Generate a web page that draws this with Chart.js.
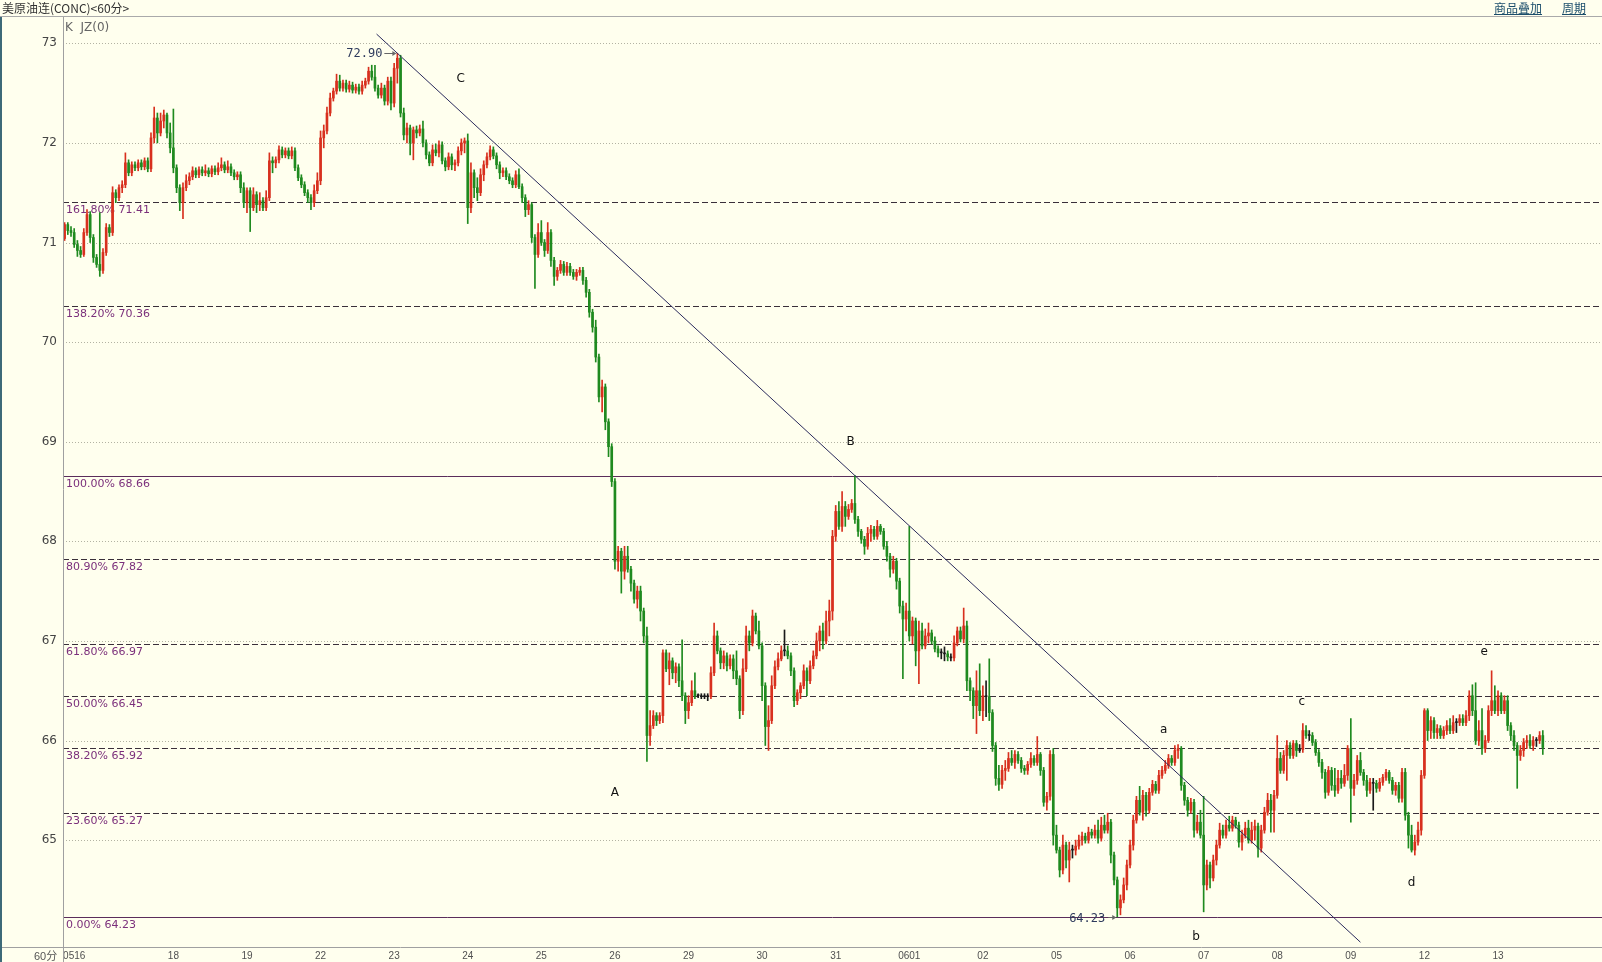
<!DOCTYPE html>
<html lang="zh-CN">
<head>
<meta charset="utf-8">
<title>美原油连(CONC)&lt;60分&gt;</title>
<script src="https://cdn.jsdelivr.net/npm/chart.js@4.4.1/dist/chart.umd.min.js"></script>
<style>
html,body{margin:0;padding:0;background:#FFFFEE;overflow:hidden;}
#wrap{position:relative;width:1602px;height:962px;background:#FFFFEE;}
#c{position:absolute;left:0;top:0;}
.t{position:absolute;white-space:pre;z-index:2;}
</style>
</head>
<body>
<div id="wrap">
  <canvas id="c" width="1602" height="962"></canvas>
  <div class="t" style="left:2px;top:0px;font-family:'Noto Sans CJK SC';font-size:12px;line-height:16px;color:#333">美原油连(CONC)&lt;60分&gt;</div>
  <div class="t" style="left:1494px;top:0px;font-family:'Noto Sans CJK SC';font-size:12px;line-height:16px;color:#1b4e6b;text-decoration:underline">商品叠加</div>
  <div class="t" style="left:1562px;top:0px;font-family:'Noto Sans CJK SC';font-size:12px;line-height:16px;color:#1b4e6b;text-decoration:underline">周期</div>
  <div class="t" style="left:65px;top:20px;font-family:'DejaVu Sans';font-size:12px;line-height:14px;color:#666">K  JZ(0)</div>
  <div class="t" style="left:34px;top:949px;font-family:'Liberation Sans','Noto Sans CJK SC';font-size:11px;line-height:14px;color:#555">60分</div>
  <div style="position:absolute;left:0;top:16px;width:1602px;height:1px;background:#aaaaaa;z-index:2"></div>
  <div style="position:absolute;left:0;top:17px;width:2px;height:945px;background:#3e6a78;z-index:2"></div>
</div>
<script>
// ---------------- data ----------------
const dayLabels = ['0516','18','19','22','23','24','25','26','29','30','31','0601','02','05','06','07','08','09','12','13'];
const dayLabelIdx = [3,34,57,80,103,126,149,172,195,218,241,264,287,310,333,356,379,402,425,448];
const yTicks = [65,66,67,68,69,70,71,72,73];

const fibPct = ['161.80%','138.20%','100.00%','80.90%','61.80%','50.00%','38.20%','23.60%','0.00%'];
const fibValues = [71.41,70.36,68.66,67.82,66.97,66.45,65.92,65.27,64.23];

const waveLetters = ['C','B','A','a','b','c','d','e'];
const waveIdx = [123.8,245.7,172.0,343.5,353.6,386.7,421.0,443.7];
const waveVal = [72.64,69.00,65.47,66.11,64.03,66.39,64.57,66.89];

const opens = [
71.04,71.18,71.12,71.10,70.98,70.92,70.88,71.10,71.28,71.05,70.85,70.78,70.72,70.90,71.15,71.10,71.50,71.45,71.55,71.58,71.80,71.70,71.78,71.75,71.80,71.76,71.82,71.74,72.05,72.25,72.10,72.22,72.28,
72.10,71.95,71.75,71.55,71.40,71.55,71.62,71.66,71.72,71.68,71.73,71.70,71.72,71.69,71.74,71.71,71.75,71.78,71.73,71.76,71.70,71.66,71.68,
71.55,71.40,71.52,71.35,71.48,71.38,71.42,71.35,71.45,71.82,71.80,71.83,71.93,71.88,71.92,71.87,71.92,71.75,71.65,71.58,71.50,71.45,71.40,
71.52,71.62,72.05,72.12,72.30,72.45,72.52,72.62,72.55,72.60,72.54,72.58,72.53,72.56,72.52,72.58,72.62,72.72,72.66,72.55,72.48,72.55,72.42,
72.62,72.40,72.75,72.85,72.30,72.08,72.15,72.00,72.13,72.10,72.14,72.00,71.88,71.80,71.93,71.90,71.98,71.82,71.76,71.86,71.78,71.80,71.92,
72.00,72.02,71.35,71.70,71.55,71.50,71.68,71.78,71.86,71.93,71.87,71.78,71.70,71.72,71.66,71.62,71.58,71.68,71.56,71.45,71.33,71.38,71.05,
70.88,71.10,71.00,70.92,71.10,70.82,70.66,70.72,70.78,70.70,70.76,70.70,70.66,70.70,70.72,70.62,70.50,70.30,70.15,69.85,69.45,69.55,69.20,
68.95,68.60,67.80,67.90,67.70,67.85,67.72,67.58,67.42,67.50,67.30,67.05,66.05,66.15,66.25,66.20,66.25,66.88,66.72,66.80,66.68,66.74,66.60,
66.45,66.30,66.38,66.50,66.45,66.45,66.44,66.45,66.44,66.68,67.05,66.90,66.78,66.85,66.75,66.82,66.70,66.62,66.30,66.72,67.05,66.98,67.25,
67.10,66.95,66.55,66.14,66.20,66.55,66.74,66.82,66.90,66.90,66.85,66.70,66.40,66.48,66.55,66.70,66.60,66.75,66.85,67.00,67.10,67.00,67.20,
67.30,68.05,68.30,68.15,68.35,68.25,68.32,68.38,68.22,68.10,68.02,67.95,68.08,68.12,68.05,68.15,68.10,67.95,67.85,67.72,67.80,67.60,67.35,
67.22,67.30,67.05,67.20,66.90,67.10,66.95,67.05,67.08,67.00,66.92,66.88,66.88,66.87,66.84,66.83,66.98,67.10,67.02,67.15,66.60,66.50,66.35,
66.50,66.30,66.45,66.44,66.28,65.95,65.62,65.56,65.70,65.72,65.82,65.78,65.86,65.80,65.72,65.70,65.76,65.82,65.78,65.86,65.70,65.38,65.44,
65.86,65.05,64.90,64.70,64.95,64.80,64.90,64.90,64.94,65.00,65.04,65.00,65.08,65.05,65.10,65.02,65.15,65.10,65.18,64.85,64.60,64.32,64.40,
64.55,64.75,64.95,65.20,65.40,65.28,65.45,65.30,65.48,65.56,65.50,65.65,65.70,65.75,65.82,65.78,65.90,65.92,65.55,65.40,65.30,65.38,65.10,
65.18,65.05,64.55,64.75,64.62,64.80,64.95,65.10,65.05,65.15,65.12,65.20,65.15,64.98,65.05,65.12,65.00,65.10,65.14,64.92,65.10,65.28,65.40,
65.30,65.45,65.82,65.70,65.85,65.95,65.85,65.97,65.90,65.91,66.10,66.05,66.05,65.98,65.88,65.78,65.68,65.48,65.70,65.55,65.50,65.62,65.57,
65.65,65.92,65.52,65.60,65.80,65.68,65.60,65.50,65.58,65.57,65.52,65.58,65.63,65.68,65.60,65.50,65.55,65.42,65.68,65.25,65.05,64.90,64.98,
65.10,65.65,66.30,66.10,66.20,66.08,66.12,66.05,66.10,66.15,66.10,66.18,66.18,66.22,66.18,66.25,66.45,66.30,66.00,66.10,65.92,66.00,66.30,
66.40,66.30,66.45,66.30,66.40,66.15,66.05,65.95,65.85,65.90,65.98,66.00,65.95,66.00,66.00,66.05
];
const highs = [
71.20,71.20,71.16,71.14,71.02,70.96,71.14,71.33,71.31,71.08,70.88,71.30,70.94,71.19,71.18,71.56,71.53,71.58,71.62,71.90,71.83,71.81,71.81,71.83,71.83,71.85,71.85,72.10,72.36,72.30,72.30,72.33,72.30,
72.20,72.34,71.78,71.58,71.60,71.68,71.70,71.76,71.75,71.76,71.76,71.78,71.75,71.77,71.77,71.80,71.85,71.81,71.82,71.79,71.73,71.71,71.71,
71.60,71.55,71.55,71.55,71.51,71.50,71.45,71.52,71.90,71.86,71.86,71.97,71.96,71.95,71.95,71.96,71.95,71.78,71.68,71.61,71.53,71.48,71.58,
71.70,72.12,72.18,72.36,72.50,72.55,72.69,72.68,72.63,72.63,72.62,72.61,72.59,72.59,72.62,72.65,72.76,72.78,72.78,72.58,72.60,72.58,72.66,
72.66,72.80,72.90,72.88,72.35,72.20,72.18,72.16,72.17,72.18,72.22,72.03,71.91,71.98,71.99,72.02,72.01,71.85,71.90,71.89,71.83,71.96,72.04,
72.05,72.09,71.80,71.73,71.65,71.74,71.82,71.90,71.97,71.96,71.90,71.81,71.75,71.75,71.69,71.65,71.72,71.74,71.59,71.48,71.42,71.40,71.08,
71.19,71.22,71.03,71.20,71.13,70.85,70.75,70.82,70.81,70.80,70.79,70.73,70.73,70.75,70.75,70.65,70.53,70.33,70.22,69.88,69.62,69.58,69.23,
68.98,68.63,67.95,67.93,67.95,67.95,67.75,67.61,67.55,67.55,67.33,67.14,66.30,66.30,66.28,66.28,66.91,66.91,66.88,66.83,66.78,66.77,67.01,
66.48,66.45,66.60,66.68,66.47,66.47,66.47,66.47,66.74,67.18,67.10,66.93,66.90,66.88,66.86,66.86,66.90,66.65,66.82,67.15,67.10,67.31,67.28,
67.20,66.98,66.58,66.35,66.65,66.80,66.88,66.95,67.11,66.95,66.88,66.73,66.51,66.58,66.76,66.73,66.80,66.90,67.08,67.15,67.18,67.30,67.41,
68.11,68.36,68.40,68.50,68.40,68.37,68.42,68.66,68.25,68.12,68.05,68.14,68.16,68.15,68.21,68.17,68.13,68.00,67.88,67.85,67.83,67.63,67.40,
67.38,68.15,67.24,67.23,67.20,67.18,67.12,67.18,67.11,67.04,66.95,66.92,66.94,66.90,66.87,67.05,67.14,67.14,67.33,67.20,66.63,66.53,66.70,
66.77,66.55,66.60,66.82,66.31,65.98,65.75,65.75,65.80,65.88,65.90,65.90,65.89,65.83,65.75,65.79,65.88,65.85,66.04,65.88,65.73,65.48,65.90,
65.92,65.15,64.93,65.05,64.98,64.98,64.95,65.00,65.05,65.08,65.07,65.13,65.11,65.15,65.20,65.23,65.25,65.27,65.21,64.88,64.63,64.45,64.62,
64.80,65.00,65.25,65.44,65.54,65.50,65.48,65.52,65.60,65.59,65.70,65.74,65.80,65.86,65.85,65.95,65.96,65.94,65.58,65.43,65.42,65.41,65.25,
65.30,65.44,64.80,64.78,64.85,65.00,65.17,65.15,65.20,65.24,65.24,65.23,65.18,65.10,65.18,65.20,65.18,65.20,65.17,65.15,65.33,65.47,65.46,
65.50,66.05,65.88,65.90,66.00,65.98,66.00,66.00,65.96,66.17,66.15,66.10,66.08,66.01,65.91,65.81,65.71,65.74,65.73,65.72,65.70,65.70,65.76,
65.95,66.22,65.66,65.85,65.88,65.71,65.65,65.62,65.62,65.60,65.62,65.66,65.71,65.70,65.63,65.58,65.58,65.72,65.72,65.28,65.15,65.05,65.18,
65.70,66.32,66.32,66.24,66.23,66.16,66.15,66.14,66.20,66.22,66.25,66.22,66.26,66.26,66.30,66.50,66.56,66.58,66.20,66.32,66.05,66.35,66.70,
66.55,66.50,66.48,66.45,66.45,66.18,66.10,65.98,65.95,66.02,66.05,66.06,66.04,66.03,66.09,66.10
];
const lows = [
71.02,71.08,71.06,70.95,70.86,70.85,70.86,71.07,71.00,70.80,70.75,70.66,70.69,70.87,71.06,71.07,71.40,71.42,71.50,71.55,71.67,71.67,71.72,71.72,71.73,71.73,71.71,71.71,72.00,72.00,72.07,72.15,72.05,
71.90,71.70,71.50,71.32,71.24,71.52,71.58,71.63,71.65,71.65,71.67,71.67,71.66,71.66,71.68,71.68,71.72,71.70,71.70,71.67,71.63,71.63,71.50,
71.35,71.30,71.11,71.32,71.30,71.32,71.32,71.32,71.42,71.70,71.75,71.80,71.85,71.85,71.84,71.84,71.72,71.62,71.55,71.47,71.40,71.33,71.36,
71.49,71.58,71.95,72.09,72.27,72.42,72.49,72.52,72.52,72.51,72.51,72.50,72.50,72.49,72.49,72.55,72.59,72.63,72.52,72.45,72.45,72.38,72.38,
72.33,72.36,72.60,72.26,72.03,72.00,71.88,71.83,72.05,72.07,71.96,71.84,71.77,71.77,71.87,71.86,71.79,71.72,71.73,71.73,71.72,71.77,71.88,
71.90,71.19,71.30,71.45,71.42,71.47,71.62,71.75,71.83,71.84,71.74,71.64,71.66,71.63,71.59,71.55,71.55,71.54,71.40,71.26,71.28,71.00,70.54,
70.85,70.97,70.86,70.89,70.76,70.57,70.62,70.69,70.67,70.67,70.67,70.63,70.62,70.67,70.58,70.45,70.25,70.10,69.80,69.40,69.30,69.12,68.85,
68.55,67.72,67.70,67.48,67.62,67.69,67.50,67.38,67.33,67.20,66.98,65.79,65.95,66.12,66.15,66.17,66.18,66.69,66.56,66.62,66.58,66.54,66.40,
66.17,66.22,66.35,66.42,66.43,66.42,66.42,66.40,66.42,66.65,66.87,66.72,66.72,66.70,66.72,66.62,66.56,66.22,66.26,66.69,66.90,66.95,67.07,
66.92,66.40,65.95,65.90,66.17,66.52,66.71,66.80,66.85,66.82,66.65,66.34,66.36,66.42,66.52,66.45,66.57,66.72,66.82,66.90,66.92,66.97,67.05,
67.21,68.00,68.12,68.10,68.15,68.22,68.29,68.18,68.05,67.98,67.87,67.92,68.00,68.02,68.02,68.07,67.92,67.80,67.64,67.68,67.52,67.28,66.62,
67.10,67.00,66.97,66.75,66.57,66.92,66.92,66.98,66.97,66.89,66.84,66.82,66.80,66.80,66.80,66.80,66.95,66.99,66.98,66.50,66.40,66.22,66.07,
66.25,66.20,66.24,66.20,65.89,65.55,65.50,65.52,65.60,65.69,65.75,65.72,65.77,65.68,65.66,65.66,65.73,65.75,65.75,65.65,65.34,65.30,65.40,
64.95,64.87,64.63,64.66,64.72,64.58,64.82,64.85,64.91,64.95,64.97,64.97,65.02,65.02,64.97,64.99,65.07,65.07,64.77,64.55,64.23,64.25,64.37,
64.50,64.72,64.90,65.17,65.25,65.20,65.24,65.27,65.45,65.47,65.47,65.62,65.67,65.72,65.75,65.75,65.82,65.50,65.35,65.24,65.27,65.03,65.07,
65.02,64.28,64.50,64.52,64.59,64.75,64.92,65.02,65.02,65.09,65.09,65.12,64.93,64.90,65.02,64.97,64.97,65.00,64.83,64.88,65.07,65.25,65.08,
65.08,65.42,65.67,65.67,65.60,65.82,65.82,65.84,65.88,65.88,66.02,66.00,65.95,65.85,65.74,65.62,65.42,65.45,65.50,65.44,65.47,65.52,65.54,
65.60,65.18,65.45,65.56,65.65,65.55,65.44,65.47,65.30,65.48,65.49,65.55,65.60,65.57,65.46,65.45,65.38,65.38,65.20,64.92,64.88,64.85,64.95,
65.05,65.62,66.00,66.02,66.02,66.02,66.02,66.02,66.06,66.07,66.07,66.08,66.15,66.15,66.15,66.20,66.25,65.96,65.95,65.86,65.88,65.98,66.25,
66.27,66.25,66.27,66.27,66.10,66.00,65.90,65.52,65.80,65.84,65.92,65.92,65.90,65.94,65.97,65.86
];
const closes = [
71.18,71.12,71.10,70.98,70.92,70.88,71.10,71.28,71.05,70.85,70.78,70.72,70.90,71.15,71.10,71.50,71.45,71.55,71.58,71.80,71.70,71.78,71.75,71.80,71.76,71.82,71.74,72.05,72.25,72.10,72.22,72.28,72.10,
71.95,71.75,71.55,71.40,71.55,71.62,71.66,71.72,71.68,71.73,71.70,71.72,71.69,71.74,71.71,71.75,71.78,71.73,71.76,71.70,71.66,71.68,71.55,
71.40,71.52,71.35,71.48,71.38,71.42,71.35,71.45,71.82,71.80,71.83,71.93,71.88,71.92,71.87,71.92,71.75,71.65,71.58,71.50,71.45,71.40,71.52,
71.62,72.05,72.12,72.30,72.45,72.52,72.62,72.55,72.60,72.54,72.58,72.53,72.56,72.52,72.58,72.62,72.72,72.66,72.55,72.48,72.55,72.42,72.62,
72.40,72.75,72.85,72.30,72.08,72.15,72.00,72.13,72.10,72.14,72.00,71.88,71.80,71.93,71.90,71.98,71.82,71.76,71.86,71.78,71.80,71.92,72.00,
72.02,71.35,71.70,71.55,71.50,71.68,71.78,71.86,71.93,71.87,71.78,71.70,71.72,71.66,71.62,71.58,71.68,71.56,71.45,71.33,71.38,71.05,70.88,
71.10,71.00,70.92,71.10,70.82,70.66,70.72,70.78,70.70,70.76,70.70,70.66,70.70,70.72,70.62,70.50,70.30,70.15,69.85,69.45,69.55,69.20,68.95,
68.60,67.80,67.90,67.70,67.85,67.72,67.58,67.42,67.50,67.30,67.05,66.05,66.15,66.25,66.20,66.25,66.88,66.72,66.80,66.68,66.74,66.60,66.45,
66.30,66.38,66.50,66.45,66.45,66.44,66.45,66.44,66.68,67.05,66.90,66.78,66.85,66.75,66.82,66.70,66.62,66.30,66.72,67.05,66.98,67.25,67.10,
66.95,66.55,66.14,66.20,66.55,66.74,66.82,66.90,66.90,66.85,66.70,66.40,66.48,66.55,66.70,66.60,66.75,66.85,67.00,67.10,67.00,67.20,67.30,
68.05,68.30,68.15,68.35,68.25,68.32,68.38,68.22,68.10,68.02,67.95,68.08,68.12,68.05,68.15,68.10,67.95,67.85,67.72,67.80,67.60,67.35,67.22,
67.30,67.05,67.20,66.90,67.10,66.95,67.05,67.08,67.00,66.92,66.88,66.88,66.87,66.84,66.83,66.98,67.10,67.02,67.15,66.60,66.50,66.35,66.50,
66.30,66.45,66.44,66.28,65.95,65.62,65.56,65.70,65.72,65.82,65.78,65.86,65.80,65.72,65.70,65.76,65.82,65.78,65.86,65.70,65.38,65.44,65.86,
65.05,64.90,64.70,64.95,64.80,64.90,64.90,64.94,65.00,65.04,65.00,65.08,65.05,65.10,65.02,65.15,65.10,65.18,64.85,64.60,64.32,64.40,64.55,
64.75,64.95,65.20,65.40,65.28,65.45,65.30,65.48,65.56,65.50,65.65,65.70,65.75,65.82,65.78,65.90,65.92,65.55,65.40,65.30,65.38,65.10,65.18,
65.05,64.55,64.75,64.62,64.80,64.95,65.10,65.05,65.15,65.12,65.20,65.15,64.98,65.05,65.12,65.00,65.10,65.14,64.92,65.10,65.28,65.40,65.30,
65.45,65.82,65.70,65.85,65.95,65.85,65.97,65.90,65.91,66.10,66.05,66.05,65.98,65.88,65.78,65.68,65.48,65.70,65.55,65.50,65.62,65.57,65.65,
65.92,65.52,65.60,65.80,65.68,65.60,65.50,65.58,65.57,65.52,65.58,65.63,65.68,65.60,65.50,65.55,65.42,65.68,65.25,65.05,64.90,64.98,65.10,
65.65,66.30,66.10,66.20,66.08,66.12,66.05,66.10,66.15,66.10,66.18,66.18,66.22,66.18,66.25,66.45,66.30,66.00,66.10,65.92,66.00,66.30,66.40,
66.30,66.45,66.30,66.40,66.15,66.05,65.95,65.85,65.90,65.98,66.00,65.95,66.00,66.00,66.05,65.93
];

// ---------------- layout / style ----------------
const SLOT_COUNT = 481;          // visible hourly slots (incl. empty space at right)
const slotLabels = Array.from({length: SLOT_COUNT}, (_, i) => String(i));
const UP = '#d8301e', DOWN = '#1f8a1f', FLAT = '#1a1a1a';
const colors = closes.map((c, i) => {
  const d = c - opens[i];
  return Math.abs(d) < 0.015 ? FLAT : (d > 0 ? UP : DOWN);
});
const peakIdx = highs.indexOf(Math.max(...highs));
const lowIdx = lows.indexOf(Math.min(...lows));
let bIdx = 200;
for (let i = 200; i < 300; i++) if (highs[i] > highs[bIdx]) bIdx = i;

const decor = {
  id: 'decor',
  beforeDatasetsDraw(chart) {
    const {ctx, chartArea: a, scales: {y}} = chart;
    ctx.save();
    ctx.lineWidth = 1;
    ctx.strokeStyle = '#b3b3a3';
    ctx.setLineDash([1, 2]);
    yTicks.forEach(v => {
      const py = Math.round(y.getPixelForValue(v)) + 0.5;
      ctx.beginPath(); ctx.moveTo(a.left, py); ctx.lineTo(a.right, py); ctx.stroke();
    });
    ctx.font = "11px 'DejaVu Sans'";
    ctx.textAlign = 'left';
    ctx.textBaseline = 'alphabetic';
    fibValues.forEach((v, k) => {
      const py = Math.round(y.getPixelForValue(v)) + 0.5;
      const solid = fibPct[k] === '100.00%' || fibPct[k] === '0.00%';
      ctx.setLineDash(solid ? [] : [6, 3]);
      ctx.strokeStyle = solid ? '#5b2d5b' : '#3a2f3a';
      ctx.beginPath(); ctx.moveTo(a.left, py); ctx.lineTo(a.right, py); ctx.stroke();
      ctx.fillStyle = '#7b2f7b';
      ctx.fillText(fibPct[k] + ' ' + v.toFixed(2), a.left + 3, py + 10.5);
    });
    ctx.restore();
  },
  afterDatasetsDraw(chart) {
    const {ctx, chartArea: a, scales: {x, y}} = chart;
    ctx.save();
    // trend line through the 72.90 top and the B top
    const x1 = x.getPixelForValue(peakIdx), y1 = y.getPixelForValue(highs[peakIdx]);
    const x2 = x.getPixelForValue(bIdx), y2 = y.getPixelForValue(highs[bIdx]);
    const m = (y2 - y1) / (x2 - x1);
    const xa = x.getPixelForValue(peakIdx - 6.5), xb = x.getPixelForValue(bIdx + 158);
    ctx.strokeStyle = '#2a2a5c'; ctx.lineWidth = 1; ctx.setLineDash([]);
    ctx.beginPath(); ctx.moveTo(xa, y1 + m * (xa - x1)); ctx.lineTo(xb, y1 + m * (xb - x1)); ctx.stroke();

    // wave letters
    ctx.fillStyle = '#111';
    ctx.font = "12px 'DejaVu Sans'";
    ctx.textAlign = 'center'; ctx.textBaseline = 'middle';
    waveLetters.forEach((t, k) => ctx.fillText(t, x.getPixelForValue(waveIdx[k]), y.getPixelForValue(waveVal[k])));

    // high / low price labels with arrows
    ctx.font = "12px 'DejaVu Sans Mono'";
    ctx.textAlign = 'right';
    const arrow = (xs, xe, yy) => {
      ctx.strokeStyle = '#666'; ctx.fillStyle = '#666';
      ctx.beginPath(); ctx.moveTo(xs, yy); ctx.lineTo(xe - 3, yy); ctx.stroke();
      ctx.beginPath(); ctx.moveTo(xe, yy); ctx.lineTo(xe - 4, yy - 2.5); ctx.lineTo(xe - 4, yy + 2.5); ctx.closePath(); ctx.fill();
    };
    const hx = x.getPixelForValue(peakIdx), hy = Math.round(y.getPixelForValue(highs[peakIdx])) + 0.5;
    ctx.fillStyle = '#2e3a5c';
    ctx.fillText(highs[peakIdx].toFixed(2), hx - 15, hy);
    arrow(hx - 13, hx - 1, hy);
    const lx = x.getPixelForValue(lowIdx), ly = Math.round(y.getPixelForValue(lows[lowIdx])) + 0.5;
    ctx.fillStyle = '#2e3a5c';
    ctx.fillText(lows[lowIdx].toFixed(2), lx - 12, ly + 1);
    arrow(lx - 9, lx - 1, ly);
    ctx.restore();
  },
  afterDraw(chart) {
    const {ctx, chartArea: a, width, height} = chart;
    ctx.save();
    ctx.strokeStyle = '#a0a0a0'; ctx.lineWidth = 1;
    ctx.beginPath(); ctx.moveTo(Math.round(a.left) + 0.5, a.top); ctx.lineTo(Math.round(a.left) + 0.5, height); ctx.stroke();
    ctx.beginPath(); ctx.moveTo(0, Math.round(a.bottom) + 0.5); ctx.lineTo(width, Math.round(a.bottom) + 0.5); ctx.stroke();
    ctx.restore();
  }
};

new Chart(document.getElementById('c'), {
  type: 'bar',
  data: {
    labels: slotLabels,
    datasets: [
      {
        label: 'body',
        data: opens.map((o, i) => [Math.min(o, closes[i]), Math.max(o, closes[i])]),
        backgroundColor: colors,
        borderWidth: 0,
        barThickness: 2,
        minBarLength: 1,
        grouped: false,
        order: 1
      },
      {
        label: 'wick',
        data: lows.map((l, i) => [l, highs[i]]),
        backgroundColor: colors,
        borderWidth: 0,
        barThickness: 1,
        grouped: false,
        order: 2
      }
    ]
  },
  options: {
    responsive: false,
    animation: false,
    devicePixelRatio: 1,
    events: [],
    layout: {padding: {top: 17, left: 0, right: 0, bottom: 0}},
    plugins: {legend: {display: false}, tooltip: {enabled: false}},
    scales: {
      x: {
        type: 'category',
        offset: true,
        grid: {display: false, drawTicks: false},
        border: {display: false},
        ticks: {
          autoSkip: false, maxRotation: 0, minRotation: 0, padding: 0,
          color: '#505050',
          font: {family: 'Liberation Sans', size: 10, lineHeight: 1.8},
          callback: (v, i) => { const k = dayLabelIdx.indexOf(i); return k >= 0 ? dayLabels[k] : ''; }
        },
        afterFit: s => { s.height = 15; }
      },
      y: {
        type: 'linear',
        min: 63.927,
        max: 73.264,
        grid: {display: false, drawTicks: false},
        border: {display: false},
        afterBuildTicks: s => { s.ticks = yTicks.map(v => ({value: v})); },
        ticks: {
          padding: 6,
          color: '#444',
          font: {family: 'DejaVu Sans', size: 12},
          callback: v => String(v)
        },
        afterFit: s => { s.width = 63; }
      }
    }
  },
  plugins: [decor]
});
</script>
</body>
</html>
